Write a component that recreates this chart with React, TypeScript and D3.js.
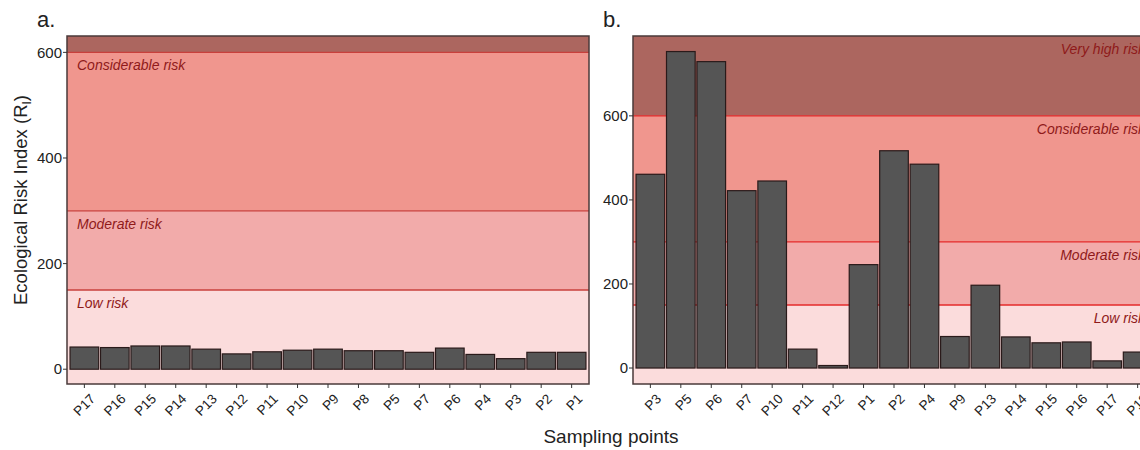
import React from "react";
import * as d3 from "d3";

const catsA = ["P17","P16","P15","P14","P13","P12","P11","P10","P9","P8","P5","P7","P6","P4","P3","P2","P1"];
const valsA = [42,41,44,44,38,29,33,36,38,35,35,32,40,28,20,32,32];

const catsB = ["P3","P5","P6","P7","P10","P11","P12","P1","P2","P4","P9","P13","P14","P15","P16","P17","P18"];
const valsB = [461,753,729,422,445,45,6,246,517,485,75,197,74,60,62,17,38];

const ticks = [0,200,400,600];
const bandNames = ["Low risk","Moderate risk","Considerable risk","Very high risk"];
const bandLimits = [150,300,600];

const bandColors = ["#fbdcdc","#f2abaa","#f0968e","#ac665f"];

type PanelProps = {
  cats: string[]; vals: number[]; x0: number; domain: [number, number]; label: string;
  align: "start" | "end"; lineColor: string; showVeryHigh: boolean;
};

function Panel({ cats, vals, x0, domain, label, align, lineColor, showVeryHigh }: PanelProps) {
  const top = 36, bottom = 384, width = 522;
  const y = d3.scaleLinear().domain(domain).range([bottom, top]);
  const x = d3.scaleBand().domain(cats).range([x0, x0 + width]).paddingInner(0.06).paddingOuter(0.1);
  const edges = [domain[0], ...bandLimits, domain[1]];
  return (
    <g>
      {edges.slice(0, -1).map((lo, i) => (
        <rect key={"b" + i} x={x0} width={width} y={y(edges[i + 1])} height={y(lo) - y(edges[i + 1])} fill={bandColors[i]} />
      ))}
      {bandLimits.map((v) => (
        <line key={"l" + v} x1={x0} x2={x0 + width} y1={y(v)} y2={y(v)} stroke={lineColor} strokeWidth={1.3} />
      ))}
      {bandNames.map((n, i) => {
        if (i === 3 && !showVeryHigh) return null;
        const px = align === "start" ? x0 + 10 : x0 + width - 10;
        return (
          <text key={n} x={px} y={y(edges[i + 1]) + 13} dy="0.35em" textAnchor={align} fontStyle="italic" fontSize={14} fill="#8f1a1a">{n}</text>
        );
      })}
      {cats.map((c, i) => (
        <rect key={c} x={x(c)} width={x.bandwidth()} y={y(vals[i])} height={y(0) - y(vals[i])} fill="#555555" stroke="#2a1a1a" strokeWidth={1.2} />
      ))}
      <rect x={x0} y={top} width={width} height={bottom - top} fill="none" stroke="#4a3a3a" strokeWidth={1.5} />
      {ticks.map((t) => (
        <g key={"t" + t}>
          <line x1={x0 - 4} x2={x0} y1={y(t)} y2={y(t)} stroke="#333" />
          <text x={x0 - 5} y={y(t)} dy="0.35em" textAnchor="end" fontSize={15} fill="#222">{t}</text>
        </g>
      ))}
      {cats.map((c) => {
        const cx = (x(c) as number) + x.bandwidth() / 2;
        return (
          <g key={"x" + c}>
            <line x1={cx} x2={cx} y1={bottom} y2={bottom + 4} stroke="#333" />
            <text transform={`translate(${cx + 5},${bottom + 9}) rotate(-45)`} textAnchor="end" dy="0.7em" fontSize={13.5} fill="#222">{c}</text>
          </g>
        );
      })}
      <text x={x0 - 30} y={27} fontSize={22} fill="#222">{label}</text>
    </g>
  );
}

export default function App() {
  return (
    <svg width={1140} height={450} style={{ display: "block", position: "absolute", left: 0, top: 0, background: "#ffffff" }} fontFamily="Arial, 'Liberation Sans', sans-serif">
      <Panel cats={catsA} vals={valsA} x0={67} domain={[-28, 631]} label="a." align="start" lineColor="#c8403c" showVeryHigh={false} />
      <Panel cats={catsB} vals={valsB} x0={633} domain={[-38, 790]} label="b." align="end" lineColor="#e52a2a" showVeryHigh={true} />
      <text transform="translate(27,200) rotate(-90)" textAnchor="middle" fontSize={18.5} fill="#222">
        Ecological Risk Index (R<tspan fontSize={12} dy="4">I</tspan><tspan dy="-4">)</tspan>
      </text>
      <text x={611} y={443} textAnchor="middle" fontSize={19} fill="#222">Sampling points</text>
    </svg>
  );
}
